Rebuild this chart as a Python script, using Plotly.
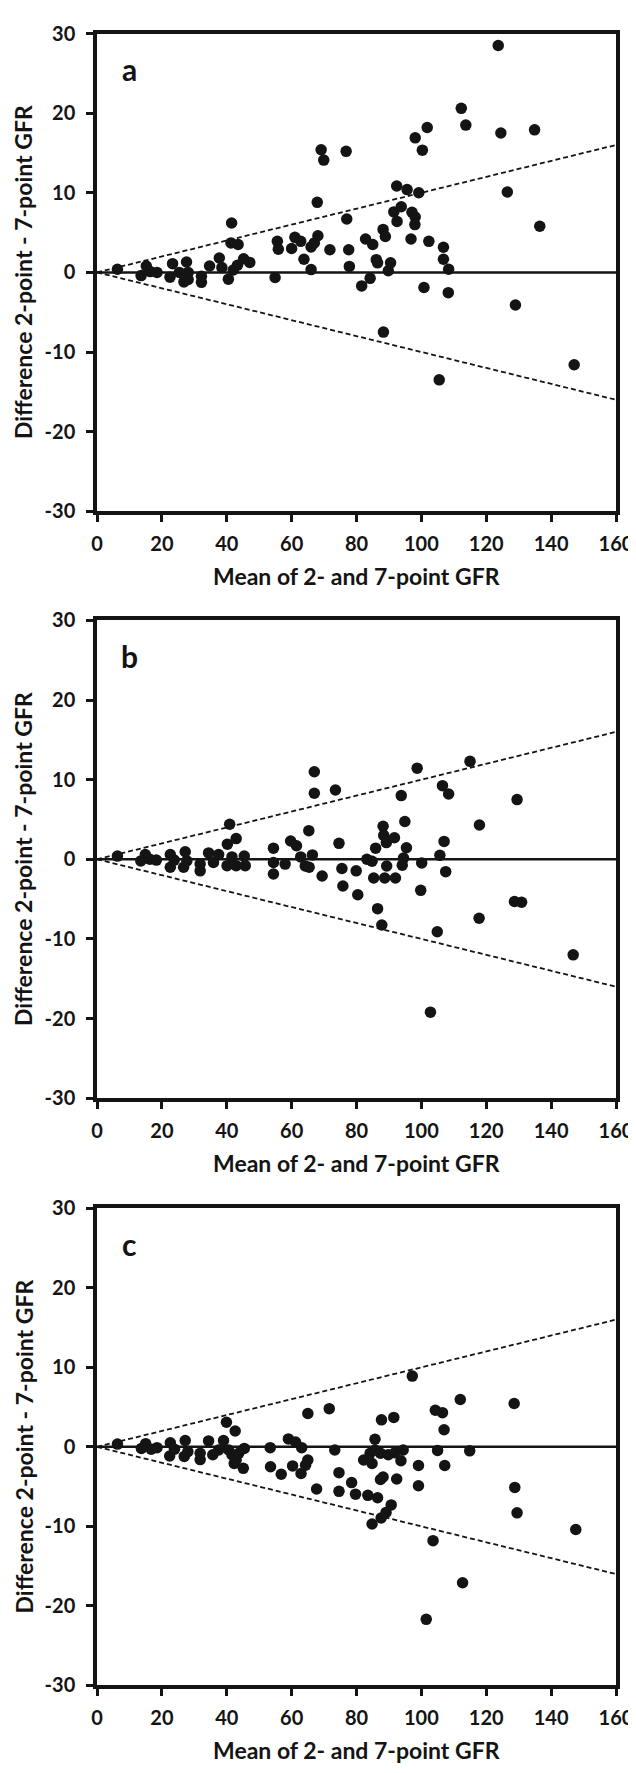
import plotly.graph_objects as go

# panel a: 2-point vs 7-point GFR, Bland-Altman
a_mean = [6.3, 13.6, 15.2, 16.4, 18.5, 22.5, 23.3, 25.4, 26.8, 27.6, 28.1, 28.1, 32.2, 32.2, 34.7,
          37.7, 38.5, 40.5, 41.5, 41.3, 42.0, 43.5, 43.3, 45.2, 47.1, 54.9, 55.6, 55.9, 60.0, 61.0,
          62.8, 63.8, 66.0, 66.0, 67.0, 68.1, 67.9, 69.1, 69.9, 71.8, 76.8, 77.0, 77.6, 77.8, 81.6,
          82.8, 84.2, 85.0, 86.1, 86.5, 88.2, 88.9, 88.3, 89.8, 90.5, 91.5, 92.4, 92.5, 93.8, 95.6,
          96.8, 97.1, 98.1, 98.0, 98.1, 99.2, 100.3, 100.8, 101.8, 102.3, 106.8, 106.8, 108.3, 108.4,
          105.5, 112.3, 113.7, 123.7, 124.5, 126.5, 129.0, 134.9, 136.5, 147.1]
a_diff = [0.4, -0.4, 0.8, 0.1, 0.0, -0.6, 1.1, 0.0, -1.2, 1.3, 0.0, -0.9, -1.25, -0.5, 0.8,
          1.8, 0.6, -0.85, 6.2, 3.7, 0.3, 3.5, 0.9, 1.7, 1.25, -0.65, 3.9, 2.9, 3.0, 4.4,
          3.9, 1.65, 0.35, 3.2, 3.7, 4.6, 8.8, 15.4, 14.1, 2.85, 15.2, 6.7, 2.85, 0.75, -1.7,
          4.2, -0.75, 3.5, 1.6, 1.2, 5.4, 4.5, -7.5, 0.2, 1.2, 7.6, 10.85, 6.4, 8.25, 10.4,
          4.2, 7.55, 6.95, 6.0, 16.9, 10.0, 15.35, -1.9, 18.2, 3.9, 3.15, 1.65, -2.55, 0.4,
          -13.5, 20.6, 18.5, 28.5, 17.5, 10.1, -4.1, 17.9, 5.8, -11.6]

# panel b
b_mean = [6.3, 13.5, 14.9, 16.3, 18.3, 22.6, 22.6, 23.8, 27.2, 26.7, 27.7, 31.8, 31.8, 34.4, 35.9,
          37.5, 40.2, 40.9, 42.9, 40.1, 41.6, 42.9, 45.4, 45.7, 54.4, 54.4, 54.4, 58.0, 59.7, 61.5,
          62.8, 64.2, 65.4, 65.3, 66.4, 67.0, 67.0, 69.4, 73.5, 74.6, 75.5, 75.8, 79.9, 80.4, 83.2,
          84.8, 85.9, 85.3, 86.5, 87.8, 88.2, 88.4, 89.2, 91.7, 89.3, 88.7, 92.0, 93.8, 94.9, 95.4,
          94.5, 94.1, 98.7, 100.1, 99.8, 105.7, 107.0, 107.5, 106.5, 108.4, 104.9, 115.0, 117.9,
          129.5, 117.8, 128.7, 130.9, 102.8, 146.8]
b_diff = [0.4, -0.2, 0.6, 0.0, -0.1, 0.6, -1.0, -0.1, 0.95, -1.0, -0.2, -1.45, -0.6, 0.8, -0.4,
          0.6, 1.9, 4.4, 2.6, -0.8, 0.3, -0.8, 0.4, -0.8, 1.4, -0.4, -1.85, -0.6, 2.3, 1.7,
          0.3, -0.85, -1.0, 3.6, 0.55, 11.0, 8.3, -2.1, 8.7, 2.0, -1.15, -3.35, -1.45, -4.45, 0.0,
          -0.25, 1.4, -2.35, -6.2, -8.25, 4.15, 3.0, 2.1, 2.7, -0.85, -2.35, -2.35, 8.0, 4.75, 1.45,
          0.15, -0.75, 11.45, -0.45, -3.9, 0.5, 2.25, -1.55, 9.25, 8.2, -9.1, 12.3, 4.3,
          7.5, -7.4, -5.3, -5.4, -19.2, -12.0]

# panel c
c_mean = [6.3, 13.7, 15.0, 16.7, 18.5, 22.6, 22.4, 23.9, 27.2, 26.9, 28.0, 31.8, 31.8, 34.4, 35.7,
          37.5, 39.0, 39.9, 42.6, 40.6, 41.6, 42.3, 42.9, 43.7, 45.1, 45.4, 53.4, 53.5, 56.8, 59.0,
          61.2, 63.1, 65.0, 64.3, 60.3, 62.9, 65.0, 71.6, 67.7, 73.3, 74.6, 74.6, 78.5, 79.7, 83.5,
          86.5, 84.8, 87.6, 89.1, 90.7, 87.4, 88.2, 92.4, 82.2, 84.2, 84.8, 85.7, 85.7, 87.7, 91.5,
          87.4, 89.8, 91.8, 93.7, 94.4, 97.2, 99.1, 99.1, 104.3, 106.5, 107.0, 105.0, 107.2, 112.0,
          114.9, 103.6, 112.7, 101.5, 128.6, 128.8, 129.5, 147.6]
c_diff = [0.35, -0.2, 0.4, -0.3, -0.1, 0.5, -1.15, -0.3, 0.8, -1.2, -0.6, -1.6, -0.8, 0.75, -1.0,
          -0.4, 0.8, 3.1, 2.0, -0.4, -1.0, -2.1, -1.65, -0.8, -2.7, -0.2, -0.1, -2.5, -3.45, 1.0,
          0.6, -0.1, -1.65, -2.3, -2.4, -3.35, 4.2, 4.8, -5.3, -0.4, -3.25, -5.6, -4.5, -5.95, -6.1,
          -6.4, -9.7, -8.95, -8.25, -7.3, -4.1, -3.8, -4.05, -1.65, -0.8, -2.1, -0.4, 0.95, 3.4, 3.7,
          -0.8, -1.0, -0.75, -1.75, -0.4, 8.9, -2.35, -4.9, 4.6, 4.3, 2.15, -0.45, -2.35, 5.95,
          -0.5, -11.8, -17.1, -21.7, 5.45, -5.1, -8.3, -10.4]

panels = [("a", a_mean, a_diff), ("b", b_mean, b_diff), ("c", c_mean, c_diff)]

# +/- 10% limits
limit_x = [0, 160]
limit_pct = 0.10

x_ticks = [0, 20, 40, 60, 80, 100, 120, 140, 160]
y_ticks = [-30, -20, -10, 0, 10, 20, 30]
y_tick_text = ["-30", "-20", "-10", "0", "10", "20", "30"]

# page body has an 8px margin, so the figure is a bit smaller than the window
W, H = 628, 1765
L, R = 88.5, 19.5
# pixel rows of each plot frame (top, bottom) in figure coords
frames = [(12.7, 497.0), (607.7, 1092.0), (1203.7, 1687.3)]

ink = "#141414"
font = dict(family="Lato", size=23, color=ink, weight="bold")
tick_font = dict(family="Lato", size=20, color=ink, weight="bold")

fig = go.Figure()
annotations = []
layout = dict(
    width=W, height=H,
    margin=dict(l=L, r=R, t=0, b=0),
    paper_bgcolor="white", plot_bgcolor="white",
    showlegend=False,
    font=font,
)

for i, (lab, xs, ys) in enumerate(panels):
    n = "" if i == 0 else str(i + 1)
    xa, ya = "x" + n, "y" + n
    top, bot = frames[i]
    dom = [1 - bot / H, 1 - top / H]

    fig.add_trace(go.Scatter(x=limit_x, y=[0, 0], mode="lines",
                             line=dict(color=ink, width=2.5), xaxis=xa, yaxis=ya))
    for s in (1, -1):
        fig.add_trace(go.Scatter(x=limit_x, y=[s * limit_pct * v for v in limit_x], mode="lines",
                                 line=dict(color=ink, width=1.8, dash="5px,3px"),
                                 xaxis=xa, yaxis=ya))
    fig.add_trace(go.Scatter(x=xs, y=ys, mode="markers",
                             marker=dict(size=11.5, color=ink, line=dict(width=0)),
                             xaxis=xa, yaxis=ya))

    axis_common = dict(showgrid=False, zeroline=False, showline=True, mirror=True,
                       linecolor=ink, linewidth=3.5, ticks="outside", ticklen=7,
                       tickwidth=2.5, tickcolor=ink, tickfont=tick_font,
                       ticklabeloverflow="allow")
    layout["xaxis" + n] = dict(axis_common, range=[0, 160], tickvals=x_ticks,
                               anchor=ya, domain=[0, 1], ticklabelstandoff=5)
    layout["yaxis" + n] = dict(axis_common, range=[-30, 30], tickvals=y_ticks,
                               ticktext=y_tick_text, anchor=xa, domain=dom,
                               ticklabelstandoff=7)

    annotations.append(dict(text=lab, x=10, y=25.5, xref=xa, yref=ya, showarrow=False,
                            font=dict(family="Lato", size=30, color=ink, weight="bold")))
    annotations.append(dict(text="Mean of 2- and 7-point GFR", x=80, y=-66 / (bot - top),
                            xref=xa, yref=ya + " domain", showarrow=False,
                            yanchor="middle", font=font))
    annotations.append(dict(text="Difference 2-point - 7-point GFR", x=(15 - L) / (W - L - R),
                            y=0.5, xref="paper", yref=ya + " domain", textangle=-90,
                            showarrow=False, xanchor="center", yanchor="middle", font=font))

layout["annotations"] = annotations
fig.update_layout(**layout)
fig.write_html("out.html")
